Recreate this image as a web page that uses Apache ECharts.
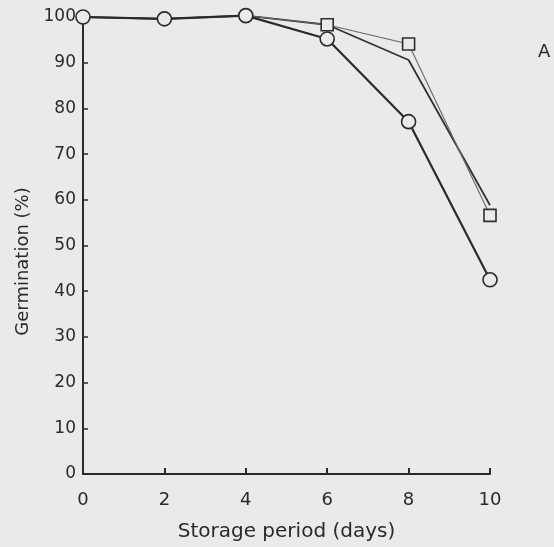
<!DOCTYPE html>
<html>
<head>
<meta charset="utf-8">
<script src="https://cdn.jsdelivr.net/npm/echarts@6/dist/echarts.min.js"></script>
<style>
html,body{margin:0;padding:0;background:#eaeaea;}
#chart{width:554px;height:547px;}
</style>
</head>
<body>
<div id="chart"></div>
<script>
const days = [0, 2, 4, 6, 8, 10];
const circleSeries = [100, 99.6, 100.3, 95.2, 77.1, 42.5];
const squareSeries = [100, 99.6, 100.3, 98.3, 94.1, 56.6];
const plainSeries = [100, 99.6, 100.3, 98.3, 90.6, 58.8];
const squareMarkedFrom = 3; // squares only visible from day 6 on
const xTicks = [0, 2, 4, 6, 8, 10];
const yTicks = [0, 10, 20, 30, 40, 50, 60, 70, 80, 90, 100];
const panelLabel = 'A';

const pairs = arr => days.map((d, i) => [d, arr[i]]);
const txt = '#2a2a2a';
const font = 'DejaVu Sans';

const chart = echarts.init(document.getElementById('chart'));
chart.setOption({
  backgroundColor: '#eaeaea',
  animation: false,
  grid: {left: 83, right: 64, top: 17, bottom: 71},
  xAxis: {
    type: 'value', min: 0, max: 10, interval: 2,
    name: 'Storage period (days)', nameLocation: 'middle', nameGap: 48,
    nameTextStyle: {color: txt, fontSize: 20, fontFamily: font},
    axisLine: {lineStyle: {color: '#2a2a2a', width: 2}},
    axisTick: {inside: true, length: 6, lineStyle: {color: '#2a2a2a', width: 2}},
    axisLabel: {color: txt, fontSize: 18, fontFamily: font, margin: 17,
      formatter: v => xTicks.includes(v) ? String(v) : ''},
    splitLine: {show: false}
  },
  yAxis: {
    type: 'value', min: 0, max: 100, interval: 10,
    name: 'Germination (%)', nameLocation: 'middle', nameGap: 50,
    nameTextStyle: {color: txt, fontSize: 18, fontFamily: font, padding: [0, 32, 0, 0]},
    axisLine: {lineStyle: {color: '#2a2a2a', width: 2}},
    axisTick: {inside: true, length: 5, lineStyle: {color: '#2a2a2a', width: 1.5}},
    axisLabel: {color: txt, fontSize: 17, fontFamily: font, margin: 7,
      formatter: v => yTicks.includes(v) ? String(v) : ''},
    splitLine: {show: false}
  },
  graphic: [{
    type: 'text', left: 538, top: 43,
    style: {text: panelLabel, fill: txt, font: '18px "DejaVu Sans"'}
  }],
  series: [
    {
      type: 'line', data: pairs(plainSeries), symbol: 'none', clip: false,
      lineStyle: {color: '#333333', width: 1.8}, z: 2
    },
    {
      type: 'line', data: pairs(squareSeries), clip: false,
      symbol: (v, p) => p.dataIndex >= squareMarkedFrom ? 'rect' : 'none', symbolSize: 12,
      lineStyle: {color: '#666666', width: 1.1},
      itemStyle: {color: '#eaeaea', borderColor: '#2e2e2e', borderWidth: 1.6}, z: 3
    },
    {
      type: 'line', data: pairs(circleSeries), symbol: 'circle', symbolSize: 14, clip: false,
      lineStyle: {color: '#2a2a2a', width: 2.2},
      itemStyle: {color: '#eaeaea', borderColor: '#2a2a2a', borderWidth: 1.6}, z: 4
    }
  ]
});
</script>
</body>
</html>
